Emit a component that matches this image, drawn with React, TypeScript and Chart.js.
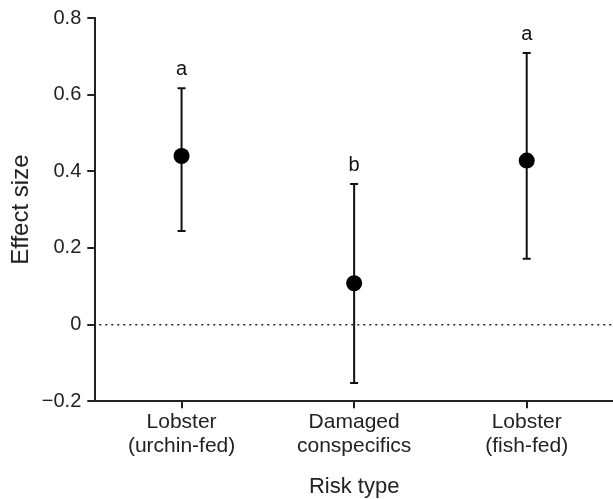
import React, { useEffect, useRef } from "react";
import { Chart, registerables } from "chart.js";

Chart.register(...registerables);

const categories: string[][] = [
  ["Lobster", "(urchin-fed)"],
  ["Damaged", "conspecifics"],
  ["Lobster", "(fish-fed)"],
];
const means: number[] = [0.44, 0.108, 0.428];
const lowers: number[] = [0.244, -0.152, 0.172];
const uppers: number[] = [0.617, 0.367, 0.709];
const letters: string[] = ["a", "b", "a"];
const yTicks: number[] = [-0.2, 0, 0.2, 0.4, 0.6, 0.8];

const FONT = "'Liberation Sans', Arial, Helvetica, sans-serif";

const errorBarPlugin = {
  id: "errorBars",
  beforeDatasetsDraw(chart: any) {
    const { ctx, chartArea, scales } = chart;
    const y = scales.y;
    const y0 = y.getPixelForValue(0);
    ctx.save();
    ctx.strokeStyle = "#222";
    ctx.lineWidth = 1.5;
    ctx.setLineDash([2, 4]);
    ctx.beginPath();
    ctx.moveTo(chartArea.left + 4, y0);
    ctx.lineTo(chartArea.right, y0);
    ctx.stroke();
    ctx.restore();

    const meta = chart.getDatasetMeta(0);
    ctx.save();
    ctx.strokeStyle = "#111";
    ctx.lineWidth = 2;
    meta.data.forEach((pt: any, i: number) => {
      const x = pt.x;
      const yl = y.getPixelForValue(lowers[i]);
      const yu = y.getPixelForValue(uppers[i]);
      ctx.beginPath();
      ctx.moveTo(x, yl);
      ctx.lineTo(x, yu);
      ctx.moveTo(x - 4, yl);
      ctx.lineTo(x + 4, yl);
      ctx.moveTo(x - 4, yu);
      ctx.lineTo(x + 4, yu);
      ctx.stroke();
      ctx.fillStyle = "#111";
      ctx.font = `20px ${FONT}`;
      ctx.textAlign = "center";
      ctx.textBaseline = "alphabetic";
      ctx.fillText(letters[i], x, yu - 13);
    });
    ctx.restore();
  },
};

export default function App() {
  const ref = useRef<HTMLCanvasElement | null>(null);
  useEffect(() => {
    if (!ref.current) return;
    const chart = new Chart(ref.current, {
      type: "line",
      data: {
        labels: categories as any,
        datasets: [
          {
            data: means,
            showLine: false,
            pointRadius: 8,
            pointBackgroundColor: "#000",
            pointBorderColor: "#000",
            pointBorderWidth: 0,
          },
        ],
      },
      options: {
        animation: false,
        responsive: true,
        maintainAspectRatio: false,
        layout: { autoPadding: false, padding: { top: 13, right: 0, left: 7, bottom: -1 } },
        plugins: { legend: { display: false }, tooltip: { enabled: false } },
        scales: {
          x: {
            type: "category",
            offset: true,
            grid: {
              offset: false,
              drawOnChartArea: false,
              drawTicks: true,
              tickLength: 7,
              lineWidth: 2,
              color: "#222",
            },
            border: { display: true, color: "#222", width: 2 },
            ticks: {
              color: "#222",
              font: { family: FONT, size: 21, lineHeight: 1.15 },
              padding: 2,
              maxRotation: 0,
            },
            title: {
              display: true,
              text: "Risk type",
              color: "#222",
              font: { family: FONT, size: 22 },
              padding: { top: 13, bottom: 0 },
            },
          },
          y: {
            min: -0.2,
            max: 0.8,
            afterBuildTicks(scale: any) {
              scale.ticks = yTicks.map((v) => ({ value: v }));
            },
            grid: {
              drawOnChartArea: false,
              drawTicks: true,
              tickLength: 8,
              lineWidth: 2,
              color: "#222",
            },
            border: { display: true, color: "#222", width: 2 },
            ticks: {
              color: "#222",
              font: { family: FONT, size: 20 },
              padding: 6,
              callback: (v: any) => {
                const n = Number(v);
                if (Math.abs(n) < 1e-9) return "0";
                return (n < 0 ? "\u2212" : "") + Math.abs(n).toFixed(1);
              },
            },
            title: {
              display: true,
              text: "Effect size",
              color: "#222",
              font: { family: FONT, size: 24 },
              padding: { top: 0, bottom: 0 },
            },
          },
        },
      },
      plugins: [errorBarPlugin],
    });
    return () => chart.destroy();
  }, []);
  return (
    <div style={{ position: "absolute", left: 0, top: 0, width: 613, height: 499, background: "#fff" }}>
      <canvas ref={ref} />
    </div>
  );
}
